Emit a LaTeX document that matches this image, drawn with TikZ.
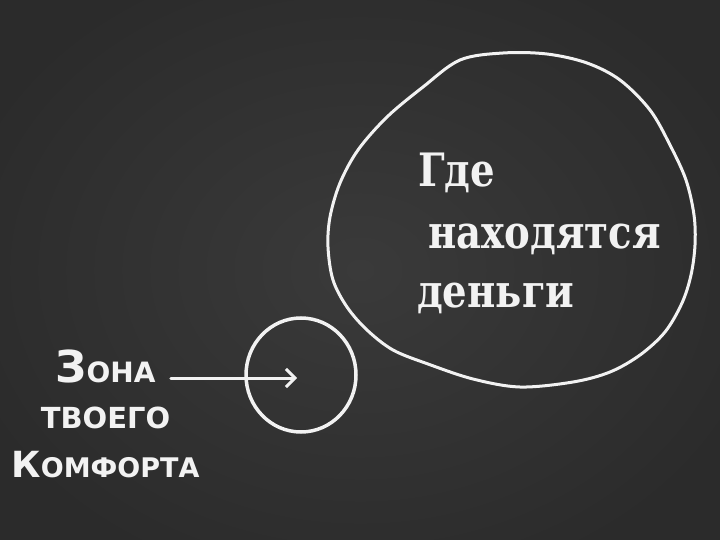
\documentclass[tikz,border=0pt]{standalone}
\usepackage{fontspec}
\setmainfont{DejaVu Sans}
\newfontfamily\slabfont[FakeStretch=0.84]{DejaVu Serif}
\newfontfamily\zonefont{DejaVu Sans}
\usetikzlibrary{arrows.meta,calc,shapes.geometric}
\definecolor{board}{HTML}{3A3A3A}
\definecolor{boardedge}{HTML}{2B2B2B}
\definecolor{chalk}{HTML}{F2F2F2}
\begin{document}
\begin{tikzpicture}[x=1pt,y=-1pt,
  chalkline/.style={draw=chalk, line width=3pt, line cap=round, line join=round},
  bigtext/.style={text=chalk, font=\slabfont\bfseries\fontsize{46}{46}\selectfont, anchor=base west, inner sep=0pt},
  zonetext/.style={text=chalk, font=\zonefont\bfseries, anchor=base, inner sep=0pt}
]
\useasboundingbox (0,0) rectangle (720,540);
\shade[inner color=board, outer color=boardedge] (-60,-60) rectangle (780,600);
% big circle
\draw[chalkline] plot[smooth cycle, tension=0.55] coordinates {
 (503,53) (547,54) (587,63) (620,80) (650,110) (670,145) (686,180) (694,215)
 (695,245) (691,275) (682,303) (665,332) (640,355) (610,372) (573,382) (520,387)
 (473,379) (428,364) (393,350) (367,330) (347,307) (333,280) (328,247) (330,217)
 (340,183) (358,150) (387,117) (423,87) (460,60)};
% small circle
\node[ellipse, draw=chalk, line width=3.5pt, minimum width=110pt, minimum height=114pt, inner sep=0pt] (comfort) at (301,375) {};
% texts in the big circle
\node[bigtext] (where) at (418,187) {Где};
\node[bigtext] (are) at (428,248) {находятся};
\node[bigtext] (money) at (417,307) {деньги};
% comfort zone label
\node[zonetext] (zona1) at (105.5,382) {\fontsize{44}{44}\selectfont З\fontsize{28}{28}\selectfont ОНА};
\node[zonetext] (zona2) at (105.5,428.5) {\fontsize{29}{29}\selectfont ТВОЕГО};
\node[zonetext] (zona3) at (105.5,477) {\fontsize{36}{36}\selectfont К\fontsize{27}{27}\selectfont ОМФОРТА};
\coordinate (tip) at (297,378);
\draw[chalkline, -{Straight Barb[length=9pt,width=18pt,line width=3pt]}] ($(zona1.base east)+(15,-4)$) -- (tip);
\end{tikzpicture}
\end{document}
